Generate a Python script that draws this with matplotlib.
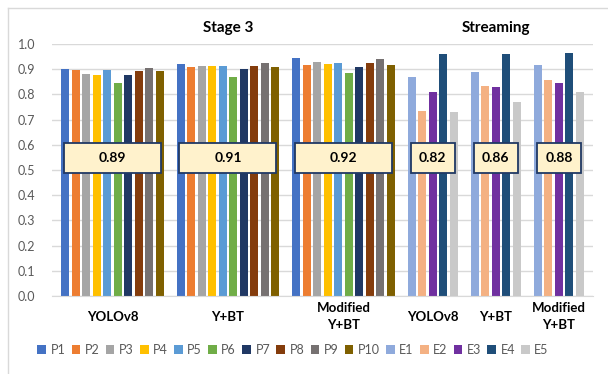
import matplotlib.pyplot as plt
import numpy as np
from matplotlib.patches import Rectangle
from matplotlib.lines import Line2D

plt.rcParams['font.family'] = ['Lato', 'DejaVu Sans']

# per-participant scores for each method
methods = ['YOLOv8', 'Y+BT', 'Modified\nY+BT']
stage3_labels = ['P1', 'P2', 'P3', 'P4', 'P5', 'P6', 'P7', 'P8', 'P9', 'P10']
stage3_scores = [
    [0.901, 0.897, 0.881, 0.878, 0.898, 0.846, 0.878, 0.892, 0.904, 0.894],
    [0.921, 0.907, 0.914, 0.913, 0.913, 0.869, 0.902, 0.913, 0.923, 0.907],
    [0.943, 0.917, 0.929, 0.919, 0.923, 0.886, 0.910, 0.925, 0.940, 0.918],
]
stage3_means = [0.89, 0.91, 0.92]

stream_labels = ['E1', 'E2', 'E3', 'E4', 'E5']
stream_scores = [
    [0.869, 0.734, 0.810, 0.959, 0.729],
    [0.890, 0.833, 0.829, 0.962, 0.771],
    [0.915, 0.858, 0.846, 0.963, 0.811],
]
stream_means = [0.82, 0.86, 0.88]

stage3_colors = ['#4472C4', '#ED7D31', '#A5A5A5', '#FFC000', '#5B9BD5',
                 '#70AD47', '#203864', '#843C0C', '#767171', '#7F6000']
stream_colors = ['#8FAADC', '#F4B183', '#7030A0', '#1F4E79', '#C9C9C9']

fig = plt.figure(figsize=(6.08, 3.74), dpi=100)
ax = fig.add_axes([0.0855, 0.2086, 0.8898, 0.6738])

bar_w = 0.78
margin = 0.75
cursor = margin
handles = {}

groups = []
for scores, mean in zip(stage3_scores, stage3_means):
    groups.append((scores, mean, stage3_labels, stage3_colors))
for scores, mean in zip(stream_scores, stream_means):
    groups.append((scores, mean, stream_labels, stream_colors))

centers = []
for gi, (scores, mean, labels, colors) in enumerate(groups):
    n = len(scores)
    xs = cursor + 0.5 + np.arange(n)
    for x, v, lab, c in zip(xs, scores, labels, colors):
        b = ax.bar(x, v, width=bar_w, color=c, zorder=2)
        handles[lab] = b
    # mean value box over the group
    inset = 0.38
    ax.add_patch(Rectangle((cursor + inset, 0.49), n - 2 * inset, 0.118,
                           facecolor='#FFF2CC', edgecolor='#203864',
                           linewidth=1.3, zorder=3))
    ax.text(cursor + n / 2, 0.549, f'{mean:.2f}', ha='center', va='center',
            fontsize=10, fontweight='bold', color='black', zorder=4)
    centers.append(cursor + n / 2)
    cursor += n + 1

xmax = cursor - 1 + margin
ax.set_xlim(0, xmax)
ax.set_ylim(0, 1.0)
ax.set_yticks(np.arange(0, 1.01, 0.1))
ax.set_yticklabels([f'{v:.1f}' for v in np.arange(0, 1.01, 0.1)])
ax.set_xticks([])
ax.grid(axis='y', color='#D9D9D9', linewidth=1, zorder=0)
for s in ['top', 'right', 'left']:
    ax.spines[s].set_visible(False)
ax.spines['bottom'].set_color('#D9D9D9')
ax.tick_params(axis='y', length=0, labelsize=9, labelcolor='#595959', pad=12)

# category labels below the bars
for c, name in zip(centers, methods + methods):
    ax.text(c, -0.083, name, transform=ax.get_xaxis_transform(), ha='center',
            va='center', fontsize=9.5, fontweight='bold', linespacing=1.5)

ax.text(centers[1], 1.065, 'Stage 3', transform=ax.get_xaxis_transform(),
        ha='center', va='center', fontsize=11, fontweight='bold')
ax.text(centers[4], 1.065, 'Streaming', transform=ax.get_xaxis_transform(),
        ha='center', va='center', fontsize=11, fontweight='bold')

order = stage3_labels + stream_labels
fig.legend([handles[k] for k in order], order, loc='center',
           bbox_to_anchor=(0.482, 0.064), ncol=15, frameon=False,
           fontsize=9, labelcolor='#595959', handlelength=0.7,
           handleheight=0.7, handletextpad=0.35, columnspacing=0.5)

# chart area border
fig.add_artist(Line2D([8 / 608, 8 / 608], [0, 1 - 8 / 374],
                      color='#D9D9D9', linewidth=1))
fig.add_artist(Line2D([8 / 608, 1], [1 - 8 / 374, 1 - 8 / 374],
                      color='#D9D9D9', linewidth=1))

fig.savefig('out.png', dpi=100)
